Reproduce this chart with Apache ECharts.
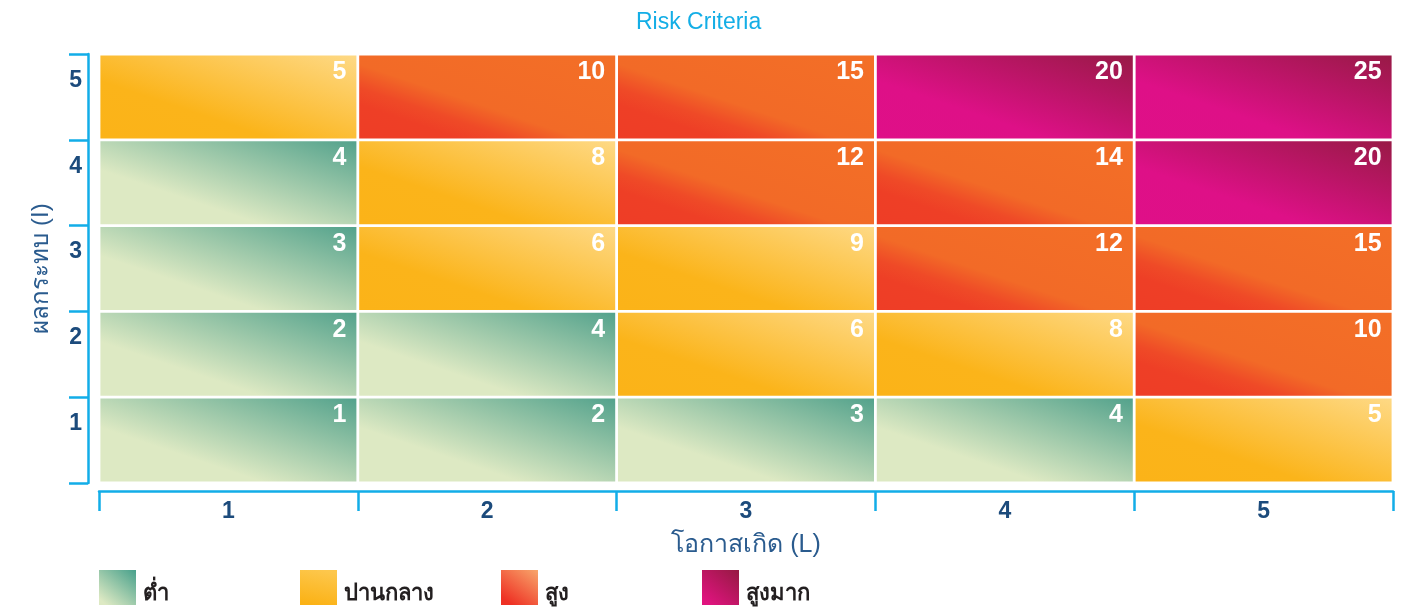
<!DOCTYPE html>
<html>
<head>
<meta charset="utf-8">
<script src="https://cdn.jsdelivr.net/npm/echarts@6/dist/echarts.min.js"></script>
<style>
html,body{margin:0;padding:0;background:#fff;}
#chart{width:1421px;height:610px;}
</style>
</head>
<body>
<div id="chart"></div>
<script>
// ---- data ----
const titleText = 'Risk Criteria';
const xLabels = ['1', '2', '3', '4', '5'];           // โอกาสเกิด (L)
const yLabels = ['1', '2', '3', '4', '5'];           // ผลกระทบ (I)
const xName = 'โอกาสเกิด (L)';
const yName = 'ผลกระทบ (I)';
// scores, one row per impact level (row 0 = impact 1)
const scoresI1 = [1, 2, 3, 4, 5];
const scoresI2 = [2, 4, 6, 8, 10];
const scoresI3 = [3, 6, 9, 12, 15];
const scoresI4 = [4, 8, 12, 14, 20];
const scoresI5 = [5, 10, 15, 20, 25];
// risk level per cell (0 = ต่ำ, 1 = ปานกลาง, 2 = สูง, 3 = สูงมาก)
const levelI1 = [0, 0, 0, 0, 1];
const levelI2 = [0, 0, 1, 1, 2];
const levelI3 = [0, 1, 1, 2, 2];
const levelI4 = [0, 1, 2, 2, 3];
const levelI5 = [1, 2, 2, 3, 3];
const levelNames = ['ต่ำ', 'ปานกลาง', 'สูง', 'สูงมาก'];

// ---- styles ----
const FONT = '"Liberation Sans", Arial, "DejaVu Sans", sans-serif';
const AXIS_BLUE = '#12ade8';
const LABEL_NAVY = '#1c4b7c';
const NAME_BLUE = '#2a5b8e';
// cell gradient stops (from top-right to bottom-left)
const cellStops = [
  [[0, '#53a28c'], [0.68, '#dde9c3'], [1, '#dde9c3']],
  [[0, '#fed985'], [0.66, '#fbb41a'], [1, '#fbb318']],
  [[0, '#f36f27'], [0.56, '#f26a27'], [0.7, '#ef4a27'], [0.8, '#ee3f26'], [1, '#ee3d26']],
  [[0, '#981a46'], [0.66, '#de1087'], [1, '#df0f88']]
];
// legend swatch gradients (x,y,x2,y2 in bbox fractions)
const legendGrad = [
  [1, 0, 0.2, 1, [[0, '#47a08b'], [1, '#dde9c3']]],
  [0.6, 0, 0.4, 1, [[0, '#fdc74c'], [1, '#fbb216']]],
  [1, 0, 0.3, 1, [[0, '#f8a66b'], [1, '#ee3124']]],
  [1, 0, 0.2, 1, [[0, '#951a42'], [1, '#e0137f']]]
];

const scoreRows = [scoresI1, scoresI2, scoresI3, scoresI4, scoresI5];
const levelRows = [levelI1, levelI2, levelI3, levelI4, levelI5];

function mkStops(arr) { return arr.map(s => ({ offset: s[0], color: s[1] })); }
function legendFill(i) {
  const g = legendGrad[i];
  return new echarts.graphic.LinearGradient(g[0], g[1], g[2], g[3], mkStops(g[4]));
}

const seriesData = levelNames.map(() => []);
for (let yi = 0; yi < yLabels.length; yi++) {
  for (let xi = 0; xi < xLabels.length; xi++) {
    seriesData[levelRows[yi][xi]].push([xi, yi, scoreRows[yi][xi]]);
  }
}

const DIR = (function () { const dx = -0.32, dy = 0.95, n = Math.hypot(dx, dy); return [dx / n, dy / n]; })();

function makeRender(level) {
  return function (params, api) {
    const c = api.coord([api.value(0), api.value(1)]);
    const sz = api.size([1, 1]);
    const inset = 1.4;
    const x0 = c[0] - sz[0] / 2 + inset, y0 = c[1] - sz[1] / 2 + inset;
    const w = sz[0] - inset * 2, h = sz[1] - inset * 2;
    const cx = x0 + w / 2, cy = y0 + h / 2;
    const L = Math.abs(w / 2 * DIR[0]) + Math.abs(h / 2 * DIR[1]);
    const grad = new echarts.graphic.LinearGradient(
      cx - DIR[0] * L, cy - DIR[1] * L, cx + DIR[0] * L, cy + DIR[1] * L,
      mkStops(cellStops[level]), true);
    return {
      type: 'group',
      children: [
        { type: 'rect', shape: { x: x0, y: y0, width: w, height: h }, style: { fill: grad } },
        {
          type: 'text',
          style: {
            text: String(api.value(2)), x: x0 + w - 10, y: y0 + 17,
            align: 'right', verticalAlign: 'middle', fill: '#ffffff',
            fontSize: 25, fontWeight: 'bold', fontFamily: FONT
          }
        }
      ]
    };
  };
}

const series = levelNames.map((name, i) => ({
  name: name,
  type: 'custom',
  coordinateSystem: 'cartesian2d',
  renderItem: makeRender(i),
  encode: { x: 0, y: 1 },
  itemStyle: { color: legendFill(i) },
  data: seriesData[i],
  silent: true
}));

const legends = levelNames.map((n, i) => ({
  left: 99 + i * 201, top: 570, orient: 'horizontal', padding: 0,
  itemWidth: 37, itemHeight: 35, icon: 'rect', selectedMode: false,
  data: [{ name: n, itemStyle: { color: legendFill(i) } }],
  formatter: function (name) { return '{s| }\n{t|' + name + '}'; },
  textStyle: {
    color: '#231f20', fontSize: 22, fontWeight: 'bold', fontFamily: FONT,
    rich: {
      s: { fontSize: 10, lineHeight: 12 },
      t: { color: '#231f20', fontSize: 22, fontWeight: 'bold', fontFamily: FONT, lineHeight: 24, padding: [0, 0, 0, 2] }
    }
  }
}));

const chart = echarts.init(document.getElementById('chart'), null, { renderer: 'canvas' });
chart.setOption({
  animation: false,
  backgroundColor: '#ffffff',
  title: {
    text: titleText, left: 631, top: 6,
    textStyle: { color: '#14aee6', fontSize: 23, fontWeight: 'normal', fontFamily: FONT }
  },
  legend: legends,
  grid: { left: 99, right: 28, top: 54, bottom: 127, containLabel: false },
  xAxis: {
    type: 'category', data: xLabels, position: 'bottom', offset: 8,
    axisLine: { show: true, lineStyle: { color: AXIS_BLUE, width: 2.5 } },
    axisTick: { show: true, length: 20, lineStyle: { color: AXIS_BLUE, width: 2.5 } },
    axisLabel: { margin: 9, color: LABEL_NAVY, fontSize: 23, fontWeight: 'bold', fontFamily: FONT },
    splitLine: { show: false },
    name: xName, nameLocation: 'middle', nameGap: 42,
    nameTextStyle: { color: NAME_BLUE, fontSize: 25, fontFamily: FONT }
  },
  yAxis: {
    type: 'category', data: yLabels, position: 'left', offset: 11,
    axisLine: { show: true, lineStyle: { color: AXIS_BLUE, width: 2.5 } },
    axisTick: { show: true, length: 19, lineStyle: { color: AXIS_BLUE, width: 2.5 } },
    axisLabel: {
      margin: 6, color: LABEL_NAVY, fontSize: 23, fontWeight: 'bold', fontFamily: FONT,
      lineHeight: 33, formatter: function (v) { return v + '\n '; }
    },
    splitLine: { show: false },
    name: yName, nameLocation: 'middle', nameGap: 35,
    nameTextStyle: { color: NAME_BLUE, fontSize: 24, fontFamily: FONT }
  },
  series: series
});
</script>
</body>
</html>
